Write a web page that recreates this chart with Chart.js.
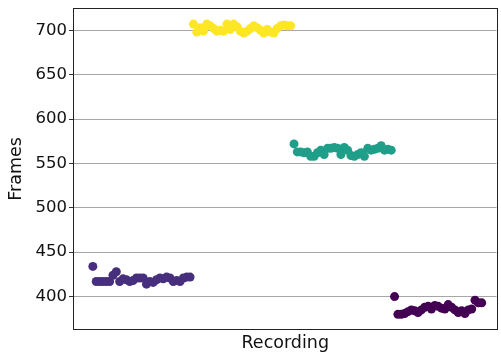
<!DOCTYPE html>
<html>
<head>
<meta charset="utf-8">
<script src="https://cdn.jsdelivr.net/npm/chart.js@4/dist/chart.umd.min.js"></script>
<style>
  html, body { margin: 0; padding: 0; background: #fff; }
  #wrap { width: 501px; height: 355px; position: relative; }
</style>
</head>
<body>
<div id="wrap"><canvas id="c"></canvas></div>
<script>
// Frame counts per take, grouped by recording (in playback order)
const recordingA = [434, 417, 417, 417, 417, 417, 424, 428, 417, 420, 419, 417, 418, 421, 421,
                    421, 414, 417, 416, 419, 421, 420, 422, 421, 417, 418, 417, 421, 422, 422];
const recordingB = [707, 698, 703, 699, 707, 705, 702, 699, 700, 699, 707, 701, 707, 704, 699,
                    697, 699, 702, 705, 703, 700, 697, 701, 698, 697, 702, 705, 706, 705, 705];
const recordingC = [572, 563, 563, 562, 563, 558, 558, 562, 565, 560, 567, 567, 568, 567, 560,
                    568, 565, 559, 558, 560, 562, 558, 567, 565, 566, 567, 570, 565, 566, 565];
const recordingD = [400, 380, 380, 381, 383, 385, 384, 382, 385, 388, 389, 386, 390, 389,
                    387, 386, 391, 388, 385, 382, 384, 381, 385, 386, 396, 393, 393];
const recordingColors = ['#472f7d', '#fde725', '#1f9e89', '#440154'];
const yTickValues = [400, 450, 500, 550, 600, 650, 700];

const groups = [recordingA, recordingB, recordingC, recordingD];
let idx = 0;
const datasets = groups.map((vals, g) => ({
  data: vals.map(v => ({ x: idx++, y: v })),
  backgroundColor: recordingColors[g],
  borderWidth: 0,
  pointRadius: 4.5,
  pointHoverRadius: 4.5
}));
const lastIndex = idx - 1;

const frame = {
  id: 'frame',
  afterDraw(chart) {
    const { ctx, chartArea: a } = chart;
    ctx.save();
    ctx.strokeStyle = '#222';
    ctx.lineWidth = 1;
    ctx.strokeRect(Math.round(a.left) - 0.5, Math.round(a.top) - 0.5,
                   Math.round(a.right - a.left) + 1, Math.round(a.bottom - a.top) + 1);
    ctx.restore();
  }
};

new Chart(document.getElementById('c'), {
  type: 'scatter',
  data: { datasets },
  plugins: [frame],
  options: {
    responsive: true,
    maintainAspectRatio: false,
    animation: false,
    events: [],
    layout: { padding: { top: 9, right: 1, left: 0, bottom: 0 } },
    plugins: { legend: { display: false }, tooltip: { enabled: false } },
    scales: {
      x: {
        type: 'linear',
        min: -0.0485 * lastIndex,
        max: 1.038 * lastIndex,
        grid: { display: false },
        border: { display: false },
        ticks: { display: false },
        title: {
          display: true,
          text: 'Recording',
          color: '#111',
          font: { family: 'DejaVu Sans', size: 17.5 },
          padding: { top: 0, bottom: 1 }
        },
        afterFit(s) { s.height = 26; s.paddingLeft = 0; s.paddingRight = 0; }
      },
      y: {
        min: 363.5,
        max: 724,
        afterBuildTicks(s) { s.ticks = yTickValues.map(v => ({ value: v })); },
        grid: { color: '#a6a6a6', lineWidth: 1, tickLength: 5, tickColor: '#333' },
        border: { display: false },
        ticks: {
          color: '#111',
          padding: 2,
          font: { family: 'DejaVu Sans', size: 16.5 }
        },
        title: {
          display: true,
          text: 'Frames',
          color: '#111',
          font: { family: 'DejaVu Sans', size: 17.5 },
          padding: { top: 6, bottom: 0 }
        },
        afterFit(s) { s.width = 74; s.paddingTop = 0; s.paddingBottom = 0; }
      }
    }
  }
});
</script>
</body>
</html>
